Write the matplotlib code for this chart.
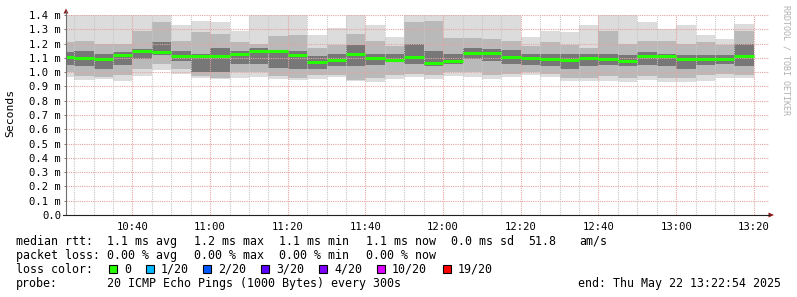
import matplotlib
matplotlib.use("Agg")
import matplotlib.pyplot as plt
import matplotlib.dates as mdates
from matplotlib.lines import Line2D
from matplotlib.patches import Rectangle, Polygon
import numpy as np
import pandas as pd

plt.rcParams['font.family'] = 'DejaVu Sans Mono'

# each sample covers the 5 minutes ending at its time stamp
t_end = pd.date_range("2025-05-22 10:25", "2025-05-22 13:20", freq="5min")
view_start = pd.Timestamp("2025-05-22 10:22:54")
view_end = pd.Timestamp("2025-05-22 13:22:54")

# round trip times in ms
median = [1.108, 1.100, 1.090, 1.122, 1.146, 1.143, 1.110, 1.110, 1.115, 1.130,
          1.150, 1.145, 1.122, 1.073, 1.083, 1.129, 1.097, 1.083, 1.108, 1.066,
          1.080, 1.136, 1.133, 1.108, 1.100, 1.090, 1.087, 1.100, 1.090, 1.080,
          1.113, 1.113, 1.090, 1.093, 1.092, 1.113]
vmax = [1.40, 1.40, 1.40, 1.40, 1.40, 1.40, 1.33, 1.358, 1.351, 1.29,
        1.40, 1.40, 1.40, 1.26, 1.307, 1.40, 1.33, 1.248, 1.40, 1.40,
        1.40, 1.40, 1.40, 1.40, 1.243, 1.288, 1.279, 1.33, 1.40, 1.40,
        1.351, 1.30, 1.33, 1.26, 1.232, 1.337]
up2 = [1.213, 1.22, 1.20, 1.20, 1.29, 1.35, 1.22, 1.28, 1.27, 1.21,
       1.20, 1.25, 1.26, 1.17, 1.19, 1.27, 1.22, 1.18, 1.35, 1.36,
       1.24, 1.24, 1.23, 1.22, 1.18, 1.21, 1.19, 1.17, 1.29, 1.20,
       1.22, 1.22, 1.20, 1.21, 1.19, 1.29]
up1 = [1.143, 1.15, 1.13, 1.14, 1.16, 1.21, 1.15, 1.13, 1.17, 1.15,
       1.17, 1.15, 1.15, 1.11, 1.13, 1.19, 1.13, 1.13, 1.20, 1.15,
       1.13, 1.17, 1.16, 1.155, 1.13, 1.13, 1.13, 1.13, 1.13, 1.12,
       1.14, 1.13, 1.12, 1.12, 1.12, 1.20]
lo1 = [1.05, 1.04, 1.025, 1.05, 1.09, 1.12, 1.08, 1.00, 1.00, 1.06,
       1.06, 1.03, 1.02, 1.02, 1.04, 1.04, 1.05, 1.07, 1.06, 1.04,
       1.06, 1.09, 1.08, 1.06, 1.05, 1.04, 1.02, 1.04, 1.05, 1.04,
       1.05, 1.04, 1.02, 1.05, 1.06, 1.04]
lo2 = [1.003, 0.97, 0.965, 0.98, 1.02, 1.06, 1.02, 0.97, 0.96, 1.00,
       1.00, 0.97, 0.96, 0.98, 0.98, 0.945, 0.96, 0.98, 0.99, 0.98,
       1.00, 1.00, 0.98, 0.985, 1.00, 0.99, 0.96, 0.96, 0.97, 0.96,
       0.97, 0.96, 0.96, 0.98, 0.99, 0.98]
vmin = [0.964, 0.945, 0.95, 0.938, 0.973, 1.015, 0.987, 0.957, 0.95, 0.957,
        0.968, 0.95, 0.945, 0.954, 0.963, 0.94, 0.933, 0.954, 0.963, 0.954,
        0.973, 0.963, 0.95, 0.963, 0.98, 0.966, 0.94, 0.94, 0.94, 0.931,
        0.945, 0.933, 0.933, 0.94, 0.957, 0.96]

loss_labels = ["0", "1/20", "2/20", "3/20", "4/20", "10/20", "19/20"]
loss_colors = ["#26ff00", "#00b8ff", "#0059ff", "#5e00ff", "#7e00ff", "#dd00ff", "#ff0000"]

W, H = 797, 297
fig = plt.figure(figsize=(W / 100, H / 100), dpi=100)
fig.patch.set_facecolor("white")


def fx(px):
    return px / W


def fy(py):
    return 1 - py / H


ax = fig.add_axes([fx(66), fy(215), (769 - 66) / W, 200 / H])

starts = mdates.date2num((t_end - pd.Timedelta(minutes=5)).to_pydatetime())
w = 5 / 1440
vmin, vmax, lo2, up2, lo1, up1 = map(np.array, (vmin, vmax, lo2, up2, lo1, up1))

ax.bar(starts, vmax - vmin, width=w, bottom=vmin, align='edge', color='#dcdcdc', lw=0)
ax.bar(starts, up2 - lo2, width=w, bottom=lo2, align='edge', color='#b9b9b9', lw=0)
ax.bar(starts, up1 - lo1, width=w, bottom=lo1, align='edge', color='#777777', lw=0)
ax.hlines(median, starts, starts + w, colors='#26ff00', lw=2.2, zorder=3)

ax.set_xlim(mdates.date2num(view_start.to_pydatetime()),
            mdates.date2num((view_end + pd.Timedelta(minutes=1)).to_pydatetime()))
ax.set_ylim(0, 1.4)

ax.xaxis.set_major_locator(mdates.MinuteLocator(byminute=[0, 20, 40]))
ax.xaxis.set_minor_locator(mdates.MinuteLocator(byminute=range(0, 60, 5)))
ax.xaxis.set_major_formatter(mdates.DateFormatter('%H:%M'))

yt = np.round(np.arange(0, 1.41, 0.1), 1)
ax.set_yticks(yt, [f"{v:.1f} m" if v > 0 else "0.0" for v in yt])

ax.set_axisbelow('line')
ax.grid(which='major', color='#e6a3a3', ls=(0, (1, 1)), lw=0.8)
ax.grid(which='minor', axis='x', color='#c8c8c8', ls=(0, (1, 1)), lw=0.8)

ax.tick_params(axis='x', which='both', length=0, pad=5, labelsize=7.6)
ax.tick_params(axis='y', length=1.5, width=0.7, color='#777777', pad=2, labelsize=7.6)
for s in ax.spines.values():
    s.set_visible(False)
ax.set_facecolor('white')

# rrdtool style axes with arrow heads
fig.add_artist(Line2D([fx(66), fx(66)], [fy(215), fy(11)], transform=fig.transFigure,
                      color='#707070', lw=0.8))
fig.add_artist(Line2D([fx(63), fx(769)], [fy(215), fy(215)], transform=fig.transFigure,
                      color='#222222', lw=0.8))
fig.add_artist(Polygon([[fx(63.5), fy(13.5)], [fx(68.5), fy(13.5)], [fx(66), fy(8.5)]],
                       closed=True, transform=fig.transFigure, color='#8b1a1a', lw=0))
fig.add_artist(Polygon([[fx(768.5), fy(212.5)], [fx(768.5), fy(217.5)], [fx(774), fy(215)]],
                       closed=True, transform=fig.transFigure, color='#8b1a1a', lw=0))

fig.text(fx(10), fy(113), "Seconds", rotation=90, ha='center', va='center', fontsize=8.2)
fig.text(fx(786), fy(5), "RRDTOOL / TOBI OETIKER", rotation=270, ha='center', va='top',
         fontsize=6, color='#b0b0b0')

fs = 8.4
line1 = [(16, "median rtt:"), (107, "1.1 ms avg"), (194, "1.2 ms max"), (279, "1.1 ms min"),
         (366, "1.1 ms now"), (451, "0.0 ms sd"), (528, "51.8"), (579, "am/s")]
line2 = [(16, "packet loss:"), (107, "0.00 % avg"), (194, "0.00 % max"),
         (279, "0.00 % min"), (366, "0.00 % now")]
line4 = [(16, "probe:"), (107, "20 ICMP Echo Pings (1000 Bytes) every 300s"),
         (578, "end: Thu May 22 13:22:54 2025")]
for base, items in [(245, line1), (259, line2), (287, line4)]:
    for x, s in items:
        fig.text(fx(x), fy(base), s, ha='left', va='baseline', fontsize=fs)

fig.text(fx(16), fy(273), "loss color:", ha='left', va='baseline', fontsize=fs)
box_x = [109, 146, 203, 261, 319, 377, 443]
for bx, lab, col in zip(box_x, loss_labels, loss_colors):
    fig.add_artist(Rectangle((fx(bx), fy(272.5)), 8 / W, 8 / H, transform=fig.transFigure,
                             facecolor=col, edgecolor='black', lw=0.8))
    fig.text(fx(bx + 15), fy(273), lab, ha='left', va='baseline', fontsize=fs)

fig.savefig("out.png", dpi=100, facecolor='white')
